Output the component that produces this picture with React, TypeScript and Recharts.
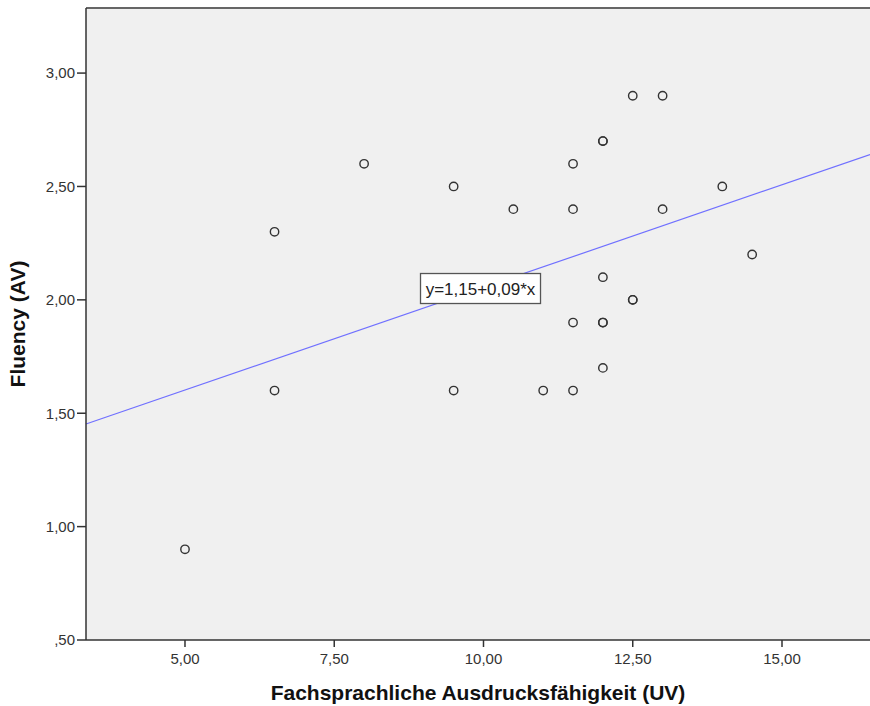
import React from "react";
import {
  ScatterChart, Scatter, XAxis, YAxis, CartesianGrid, ReferenceLine, ReferenceDot, Label,
} from "recharts";

// ── data ───────────────────────────────────────────────────────────────────
const ausdruck = [5, 6.5, 6.5, 8, 9.5, 9.5, 10.5, 11, 11.5, 11.5, 11.5, 11.5, 12, 12, 12, 12, 12, 12, 12.5, 12.5, 12.5, 13, 13, 14, 14.5];
const fluency  = [0.9, 2.3, 1.6, 2.6, 2.5, 1.6, 2.4, 1.6, 2.6, 2.4, 1.9, 1.6, 2.7, 2.7, 2.1, 1.9, 1.9, 1.7, 2.9, 2.0, 2.0, 2.9, 2.4, 2.5, 2.2];
const xTicks = [5, 7.5, 10, 12.5, 15];
const yTicks = [0.5, 1, 1.5, 2, 2.5, 3];
const intercept = 1.15;
const slope = 0.0905;
const fitLabel = "y=1,15+0,09*x";

const X_DOMAIN: [number, number] = [3.342, 16.474];
const Y_DOMAIN: [number, number] = [0.5, 3.287];

const points = ausdruck.map((x, i) => ({ x, y: fluency[i] }));

const fmt = (v: number) => {
  const s = v.toFixed(2).replace(".", ",");
  return s.startsWith("0,") ? s.slice(1) : s;
};

const FONT = "'Liberation Sans', Arial, sans-serif";
const tick = { fontSize: 15, fill: "#333", fontFamily: FONT };
const title = { fontSize: 21, fontWeight: "bold", fill: "#111", fontFamily: FONT };

const Ring = (props: any) => (
  <circle cx={props.cx} cy={props.cy} r={4.2} fill="none" stroke="#333" strokeWidth={1.4} />
);

const FitBox = (props: any) => {
  const w = 120, h = 30;
  return (
    <g>
      <rect x={props.cx - w / 2} y={props.cy - h / 2} width={w} height={h} fill="#fff" stroke="#555" strokeWidth={1.3} />
      <text x={props.cx} y={props.cy + 6} textAnchor="middle" fontSize={17} fill="#222" fontFamily={FONT}>{fitLabel}</text>
    </g>
  );
};

export default function App() {
  return (
    <div style={{ position: "absolute", left: 0, top: 0, width: 870, height: 706, background: "#fff" }}>
      <ScatterChart width={870} height={706} margin={{ top: 8, right: 0, left: 0, bottom: 0 }}>
        <CartesianGrid horizontal={false} vertical={false} fill="#f0f0f0" />
        <XAxis
          type="number" dataKey="x" domain={X_DOMAIN} ticks={xTicks} tickFormatter={fmt}
          allowDataOverflow height={66} tick={tick} stroke="#333" strokeWidth={1.5} tickSize={7} tickMargin={6}
        >
          <Label value="Fachsprachliche Ausdrucksfähigkeit (UV)" position="insideBottom" offset={6} style={title} />
        </XAxis>
        <YAxis
          type="number" dataKey="y" domain={Y_DOMAIN} ticks={yTicks} tickFormatter={fmt}
          allowDataOverflow width={86} tick={tick} stroke="#333" strokeWidth={1.5} tickSize={9}
        >
          <Label value="Fluency (AV)" angle={-90} position="insideLeft" offset={18}
            style={{ ...title, textAnchor: "middle" }} />
        </YAxis>
        <ReferenceLine y={Y_DOMAIN[1]} stroke="#666" strokeWidth={2} />
        <ReferenceLine
          segment={[
            { x: X_DOMAIN[0], y: intercept + slope * X_DOMAIN[0] },
            { x: X_DOMAIN[1], y: intercept + slope * X_DOMAIN[1] },
          ]}
          stroke="#7070ff" strokeWidth={1.2}
        />
        <Scatter data={points} shape={Ring} isAnimationActive={false} />
        <ReferenceDot x={9.95} y={2.05} shape={FitBox} />
      </ScatterChart>
    </div>
  );
}
